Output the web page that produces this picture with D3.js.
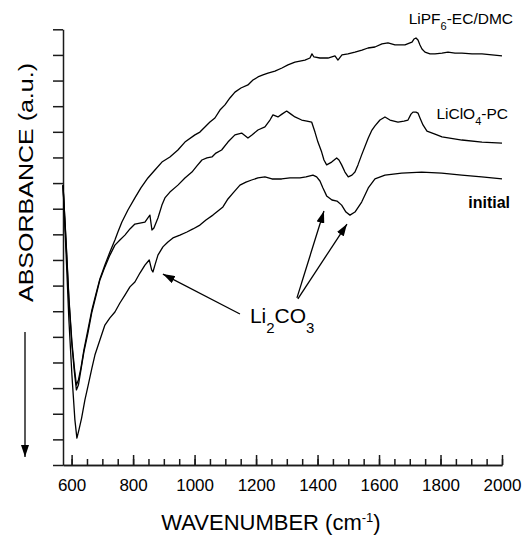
<!DOCTYPE html>
<html>
<head>
<meta charset="utf-8">
<script src="https://cdn.jsdelivr.net/npm/d3@7"></script>
<style>
  body { margin: 0; background: #fff; }
  svg { font-family: "Liberation Sans", Arial, sans-serif; }
</style>
</head>
<body>
<svg id="chart"></svg>
<script>
// Spectra: [wavenumber (cm-1), absorbance (a.u.)]
const initial = [
  [572,1.092],[581.5,0.839],[591.2,0.566],[601,0.351],[610.7,0.176],[617.2,0.105],[623.8,0.137],
  [632.5,0.183],[643.3,0.254],[654,0.312],[666,0.378],[675.8,0.429],[692,0.488],[708.3,0.546],
  [724.6,0.574],[740.9,0.597],[757.1,0.632],[773.4,0.663],[789.7,0.695],[805.9,0.714],[822.2,0.749],
  [838.5,0.780],[852.5,0.800],[860.3,0.761],[864.5,0.753],[871,0.780],[880.8,0.819],[897,0.851],
  [913.3,0.870],[929.6,0.886],[952.4,0.897],[975.1,0.909],[994.7,0.921],[1017.4,0.936],[1037,0.956],
  [1059.7,0.975],[1076,0.991],[1092.3,1.007],[1108.5,1.038],[1124.8,1.061],[1147.6,1.092],
  [1167.1,1.104],[1185.6,1.112],[1206.1,1.120],[1228.9,1.124],[1251.7,1.116],[1283.2,1.116],
  [1310.2,1.120],[1342.8,1.120],[1362.3,1.124],[1385.1,1.131],[1397.1,1.124],[1407.8,1.108],
  [1417.6,1.081],[1429.6,1.050],[1446.9,1.034],[1463.2,1.030],[1478.4,1.014],[1492.4,0.987],
  [1505.4,0.975],[1521.7,0.987],[1543.5,1.026],[1565,1.081],[1586.8,1.116],[1619.3,1.131],
  [1673.7,1.139],[1738.7,1.143],[1803.8,1.139],[1868.9,1.131],[1933.9,1.124],[2000,1.116]
];

const liclo4PC = [
  [572,1.092],[581.5,0.878],[591.2,0.644],[601,0.468],[609.1,0.363],[615.6,0.293],[622.1,0.312],
  [630.3,0.371],[640,0.441],[653,0.515],[666,0.597],[679,0.659],[692,0.722],[708.3,0.773],
  [724.6,0.819],[740.9,0.858],[757.1,0.878],[773.4,0.897],[789.7,0.921],[805.9,0.940],[822.2,0.944],
  [838.5,0.948],[848.2,0.964],[854.7,0.975],[861.3,0.917],[867.7,0.925],[880.8,0.964],[893.8,1.014],
  [903.5,1.042],[919.8,1.065],[945.8,1.092],[968.6,1.120],[991.4,1.143],[1007.7,1.167],[1023.9,1.190],
  [1040.2,1.198],[1056.5,1.202],[1069.5,1.217],[1088,1.229],[1108.5,1.260],[1131.3,1.288],
  [1153.1,1.295],[1173.6,1.276],[1186.6,1.288],[1206.1,1.307],[1228.9,1.319],[1245.2,1.346],
  [1254.9,1.366],[1271.2,1.358],[1284.2,1.369],[1299.5,1.381],[1313.5,1.369],[1326.5,1.358],
  [1348.3,1.346],[1365.5,1.342],[1380.8,1.338],[1391.6,1.299],[1401.3,1.260],[1413.4,1.221],
  [1420.9,1.190],[1429.6,1.171],[1445.9,1.182],[1462.2,1.198],[1469.7,1.190],[1478.4,1.171],
  [1489.2,1.143],[1499.9,1.124],[1511.9,1.131],[1521.7,1.143],[1531.5,1.171],[1543.5,1.210],
  [1565,1.276],[1577,1.307],[1586.8,1.323],[1603,1.346],[1619.3,1.358],[1635.6,1.346],[1661.6,1.338],
  [1681.2,1.342],[1694.2,1.346],[1704,1.369],[1710.4,1.377],[1720.2,1.377],[1726.7,1.373],
  [1733.2,1.354],[1743,1.327],[1756,1.303],[1782,1.291],[1804.8,1.280],[1869.8,1.268],
  [1934.9,1.260],[2000,1.256]
];

const lipf6ECDMC = [
  [572,1.092],[581.5,0.886],[591.2,0.652],[601,0.480],[609.1,0.378],[615.6,0.312],[622.1,0.332],
  [630.3,0.378],[640,0.449],[653,0.527],[666,0.605],[679,0.667],[692,0.726],[708.3,0.780],
  [724.6,0.831],[740.9,0.878],[750.6,0.909],[763.6,0.948],[783.2,0.995],[805.9,1.042],[825.4,1.081],
  [848.2,1.120],[871,1.151],[893.8,1.182],[919.8,1.202],[945.8,1.229],[968.6,1.260],[1001.2,1.288],
  [1017.4,1.299],[1033.7,1.319],[1050,1.338],[1066.2,1.354],[1082.5,1.385],[1098.8,1.405],
  [1115,1.432],[1131.3,1.455],[1150.8,1.471],[1173.6,1.483],[1189.9,1.502],[1206.1,1.514],
  [1222.4,1.522],[1238.7,1.529],[1261.4,1.537],[1284.2,1.549],[1303.7,1.561],[1326.5,1.572],
  [1342.8,1.576],[1359,1.580],[1375.3,1.588],[1381.8,1.604],[1388.3,1.592],[1407.8,1.588],
  [1433.9,1.588],[1456.7,1.596],[1466.4,1.580],[1479.4,1.600],[1499,1.604],[1521.7,1.611],
  [1544.5,1.619],[1564,1.627],[1586.8,1.631],[1609.5,1.643],[1629.1,1.647],[1651.9,1.639],
  [1684.4,1.639],[1700.7,1.647],[1707.2,1.650],[1713.7,1.662],[1720.2,1.666],[1726.7,1.658],
  [1733.2,1.639],[1739.7,1.623],[1749.5,1.611],[1765.7,1.604],[1782,1.604],[1804.8,1.607],
  [1824.3,1.611],[1847.1,1.607],[1869.8,1.607],[1902.4,1.604],[1934.9,1.604],[1967.4,1.600],
  [2000,1.596]
];

// Tick values
const majorTicks = [600, 800, 1000, 1200, 1400, 1600, 1800, 2000];
const minorTicks = d3.range(600, 2001, 50);
const yTicks = d3.range(0, 18).map(i => i / 10);

// Li2CO3 arrows: [from wavenumber, from abs, to wavenumber, to abs]
const li2co3Arrows = [
  [1147.6, 0.589, 897, 0.745],
  [1333, 0.652, 1420.9, 0.991],
  [1336, 0.648, 1495.7, 0.940]
];

const width = 522, height = 535;
const margin = { top: 29.3, right: 20, bottom: 70, left: 63 };

const svg = d3.select("#chart")
  .attr("width", width)
  .attr("height", height);

svg.append("rect").attr("width", width).attr("height", height).attr("fill", "#fff");

const x = d3.scaleLinear().domain([572, 2000]).range([margin.left, 502]);
const y = d3.scaleLinear().domain([0, 1.7]).range([height - margin.bottom, margin.top]);

// arrowhead marker
svg.append("defs").append("marker")
  .attr("id", "head")
  .attr("viewBox", "0 0 12 8")
  .attr("refX", 12).attr("refY", 4)
  .attr("markerWidth", 12).attr("markerHeight", 8)
  .attr("markerUnits", "userSpaceOnUse")
  .attr("orient", "auto")
  .append("path")
  .attr("d", "M0,0L12,4L0,8Z")
  .attr("fill", "#000");

// Y axis (no labels, ticks outward)
const yAxis = svg.append("g")
  .attr("transform", `translate(${margin.left},0)`)
  .call(d3.axisLeft(y).tickValues(yTicks).tickFormat("").tickSizeInner(10).tickSizeOuter(0));

// X axis: minor ticks, then major ticks with labels (ticks pointing up)
const xMinor = svg.append("g")
  .attr("transform", `translate(0,${y(0)})`)
  .call(d3.axisBottom(x).tickValues(minorTicks).tickFormat("").tickSizeInner(-6).tickSizeOuter(0));

const xAxis = svg.append("g")
  .attr("transform", `translate(0,${y(0)})`)
  .call(d3.axisBottom(x).tickValues(majorTicks).tickFormat(d3.format("d"))
    .tickSizeInner(-10).tickSizeOuter(0).tickPadding(14));

[yAxis, xMinor, xAxis].forEach(g => {
  g.selectAll("path, line").attr("stroke", "#1a1a1a").attr("stroke-width", 1.5);
});
xAxis.selectAll("text")
  .attr("fill", "#000")
  .style("font-size", "17px")
  .style("font-family", "'Liberation Sans', Arial, sans-serif");

// Spectra
const line = d3.line()
  .x(d => x(d[0]))
  .y(d => y(d[1]));

svg.selectAll("path.spectrum")
  .data([initial, liclo4PC, lipf6ECDMC])
  .enter()
  .append("path")
  .attr("class", "spectrum")
  .attr("d", line)
  .attr("fill", "none")
  .attr("stroke", "#000")
  .attr("stroke-width", 1.3)
  .attr("stroke-linejoin", "round");

// Series labels
const lab1 = svg.append("text")
  .attr("x", 513).attr("y", 24)
  .attr("text-anchor", "end")
  .style("font-size", "15.5px");
lab1.append("tspan").text("LiPF");
lab1.append("tspan").attr("dy", 6).style("font-size", "11px").text("6");
lab1.append("tspan").attr("dy", -6).text("-EC/DMC");

const lab2 = svg.append("text")
  .attr("x", 508).attr("y", 119)
  .attr("text-anchor", "end")
  .style("font-size", "15.5px");
lab2.append("tspan").text("LiClO");
lab2.append("tspan").attr("dy", 6).style("font-size", "11px").text("4");
lab2.append("tspan").attr("dy", -6).text("-PC");

svg.append("text")
  .attr("x", 510).attr("y", 208)
  .attr("text-anchor", "end")
  .style("font-size", "16px")
  .style("font-weight", "bold")
  .text("initial");

// Li2CO3 annotation
const liLab = svg.append("text")
  .attr("x", x(1180)).attr("y", y(0.554))
  .style("font-size", "21px");
liLab.append("tspan").text("Li");
liLab.append("tspan").attr("dy", 10).style("font-size", "15px").text("2");
liLab.append("tspan").attr("dy", -10).text("CO");
liLab.append("tspan").attr("dy", 10).style("font-size", "15px").text("3");

svg.selectAll("line.ann")
  .data(li2co3Arrows)
  .enter()
  .append("line")
  .attr("class", "ann")
  .attr("x1", d => x(d[0])).attr("y1", d => y(d[1]))
  .attr("x2", d => x(d[2])).attr("y2", d => y(d[3]))
  .attr("stroke", "#000")
  .attr("stroke-width", 1.3)
  .attr("marker-end", "url(#head)");

// Axis titles
const xt = svg.append("text")
  .attr("x", 271).attr("y", 530)
  .attr("text-anchor", "middle")
  .style("font-size", "22px");
xt.append("tspan").text("WAVENUMBER (cm");
xt.append("tspan").attr("dy", -8).style("font-size", "13px").text("-1");
xt.append("tspan").attr("dy", 8).text(")");

svg.append("text")
  .attr("transform", "translate(33,182.5) rotate(-90)")
  .attr("text-anchor", "middle")
  .attr("textLength", 239)
  .attr("lengthAdjust", "spacingAndGlyphs")
  .style("font-size", "21px")
  .text("ABSORBANCE (a.u.)");

// downward arrow next to the y title
svg.append("line")
  .attr("x1", 25).attr("y1", 332)
  .attr("x2", 25).attr("y2", 457)
  .attr("stroke", "#000")
  .attr("stroke-width", 1.3)
  .attr("marker-end", "url(#head)");
</script>
</body>
</html>
